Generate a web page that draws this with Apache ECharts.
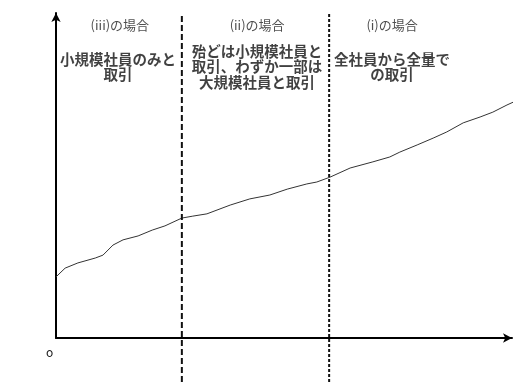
<!DOCTYPE html>
<html><head><meta charset="utf-8">
<script src="https://cdn.jsdelivr.net/npm/echarts@6/dist/echarts.min.js"></script>
<style>html,body{margin:0;padding:0;background:#fff}#c{width:523px;height:389px}</style>
</head><body><div id="c"></div>
<script>
// curve (x, y) in abstract units
const curveX = [0, 2.0, 4.8, 8.6, 10.3, 12.5, 14.7, 18.0, 21.1, 23.9, 27.6, 30.0, 33.1, 38.2, 42.5, 46.9, 50.7, 55.0, 57.2, 60.1, 64.5, 69.5, 73.2, 75.4, 79.2, 82.7, 85.7, 89.3, 93.0, 95.8, 98.9, 102.2];
const curveY = [18.8, 21.5, 23.1, 24.6, 25.5, 28.6, 30.2, 31.4, 33.2, 34.5, 36.9, 37.5, 38.2, 40.9, 42.8, 44.0, 45.8, 47.4, 48.0, 49.5, 52.3, 54.2, 55.7, 57.2, 59.4, 61.5, 63.4, 66.2, 68.0, 69.5, 71.7, 73.8];
// region boundaries
const boundaries = [27.6, 59.9];
const boundaryRange = [-13.5, 100];
// region labels
const regionX = [13.6, 44.1, 73.7];
const headerX = [14.0, 44.1, 73.7];
const regionHeaders = ['(iii)の場合', '(ii)の場合', '(i)の場合'];
const regionTexts = ['小規模社員のみと\n取引', '殆どは小規模社員と\n取引、わずか一部は\n大規模社員と取引', '全社員から全量で\nの取引'];
const headerY = 96.3;
const textY = 83.4;
const originLabel = 'o';

const chart = echarts.init(document.getElementById('c'));
const font = "'Noto Sans CJK JP', sans-serif";
const series = [];
series.push({
  type: 'line', data: curveX.map((x, i) => [x, curveY[i]]), symbol: 'none', clip: false,
  lineStyle: { color: '#333', width: 1 }, smooth: false, silent: true
});
boundaries.forEach((b, i) => {
  series.push({
    type: 'line', data: boundaryRange.map(y => [b, y]), symbol: 'none', clip: false, silent: true,
    lineStyle: { color: '#111', width: 2, type: i === 0 ? [6, 3] : [3, 2] }
  });
});
series.push({
  type: 'scatter', symbolSize: 0, silent: true,
  data: headerX.map((x, i) => ({ value: [x, headerY], name: regionHeaders[i] })),
  label: { show: true, position: 'inside', formatter: p => p.name, color: '#222', fontSize: 13, fontFamily: font, align: 'center', verticalAlign: 'middle' }
});
series.push({
  type: 'scatter', symbolSize: 0, silent: true,
  data: regionX.map((x, i) => ({ value: [x, textY], name: regionTexts[i] })),
  label: { show: true, position: 'inside', formatter: p => p.name, color: '#111', fontSize: 14.5, fontWeight: 'bold', lineHeight: 15.5, fontFamily: font, align: 'center', verticalAlign: 'middle' }
});
chart.setOption({
  animation: false,
  grid: { left: 56, right: 11, top: 13, bottom: 51 },
  xAxis: {
    type: 'value', min: 0, max: 100,
    axisLine: { show: true, symbol: ['none', 'arrow'], symbolSize: [7, 9], lineStyle: { color: '#000', width: 2 } },
    axisTick: { show: false }, axisLabel: { show: false }, splitLine: { show: false }
  },
  yAxis: {
    type: 'value', min: 0, max: 100,
    axisLine: { show: true, symbol: ['none', 'arrow'], symbolSize: [7, 9], lineStyle: { color: '#000', width: 2 } },
    axisTick: { show: false }, axisLabel: { show: false }, splitLine: { show: false }
  },
  graphic: [{ type: 'text', left: 46, top: 346, style: { text: originLabel, fontSize: 12, fontFamily: font, fill: '#222' } }],
  series: series
});
</script></body></html>
